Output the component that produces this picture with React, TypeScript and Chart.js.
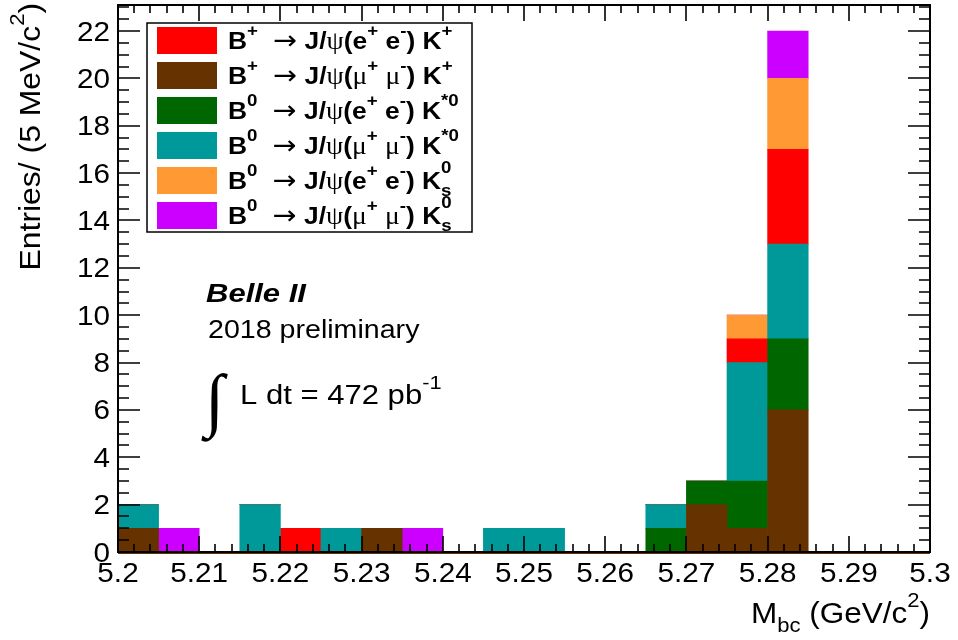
import React, { useEffect, useRef } from 'react';
import { Chart, registerables } from 'chart.js';

Chart.register(...registerables);

// ---------- data ----------
const binCenters = [
  5.2025, 5.2075, 5.2125, 5.2175, 5.2225, 5.2275, 5.2325, 5.2375, 5.2425, 5.2475,
  5.2525, 5.2575, 5.2625, 5.2675, 5.2725, 5.2775, 5.2825, 5.2875, 5.2925, 5.2975,
];
// stacked from bottom to top
const bpMuMuKp = [1, 0, 0, 0, 0, 0, 1, 0, 0, 0, 0, 0, 0, 0, 2, 1, 6, 0, 0, 0];
const b0EeKst = [0, 0, 0, 0, 0, 0, 0, 0, 0, 0, 0, 0, 0, 1, 1, 2, 3, 0, 0, 0];
const b0MuMuKst = [1, 0, 0, 2, 0, 1, 0, 0, 0, 1, 1, 0, 0, 1, 0, 5, 4, 0, 0, 0];
const bpEeKp = [0, 0, 0, 0, 1, 0, 0, 0, 0, 0, 0, 0, 0, 0, 0, 1, 4, 0, 0, 0];
const b0EeKs = [0, 0, 0, 0, 0, 0, 0, 0, 0, 0, 0, 0, 0, 0, 0, 1, 3, 0, 0, 0];
const b0MuMuKs = [0, 1, 0, 0, 0, 0, 0, 1, 0, 0, 0, 0, 0, 0, 0, 0, 2, 0, 0, 0];

const xTicks = [5.2, 5.21, 5.22, 5.23, 5.24, 5.25, 5.26, 5.27, 5.28, 5.29, 5.3];
const xTickLabels = ['5.2', '5.21', '5.22', '5.23', '5.24', '5.25', '5.26', '5.27', '5.28', '5.29', '5.3'];
const yTicks = [0, 2, 4, 6, 8, 10, 12, 14, 16, 18, 20, 22];
const yTickLabels = ['0', '2', '4', '6', '8', '10', '12', '14', '16', '18', '20', '22'];

const legendLabels = [
  'B^{+} #rightarrow J/#psi(e^{+} e^{-}) K^{+}',
  'B^{+} #rightarrow J/#psi(#mu^{+} #mu^{-}) K^{+}',
  'B^{0} #rightarrow J/#psi(e^{+} e^{-}) K^{*0}',
  'B^{0} #rightarrow J/#psi(#mu^{+} #mu^{-}) K^{*0}',
  'B^{0} #rightarrow J/#psi(e^{+} e^{-}) K^{0}_{s}',
  'B^{0} #rightarrow J/#psi(#mu^{+} #mu^{-}) K^{0}_{s}',
];
const legendColors = ['#ff0000', '#663300', '#006600', '#009999', '#ff9933', '#cc00ff'];

const xTitle = 'M_{bc} (GeV/c^{2})';
const yTitle = 'Entries/ (5 MeV/c^{2})';
const expLabel = 'Belle II';
const prelimLabel = '2018 preliminary';
const lumiLabel = 'L dt = 472 pb^{-1}';

// ---------- text helpers ----------
const SANS = '"Liberation Sans", Arial, Helvetica, sans-serif';
const SERIF = '"Liberation Serif", "Times New Roman", serif';
const ARROWFONT = '"DejaVu Sans", sans-serif';

type Seg = { t: string; font: string; dy: number; advance: boolean; padL: number; padR: number };

function parseLatex(src: string, base: number, weight: string): Seg[] {
  const main = `${weight} ${base}px ${SANS}`;
  const small = `${weight} ${Math.round(base * 0.7)}px ${SANS}`;
  const greek = `normal ${Math.round(base * 1.05)}px ${SERIF}`;
  const segs: Seg[] = [];
  let buf = '';
  const flush = () => {
    if (buf) segs.push({ t: buf, font: main, dy: 0, advance: true, padL: 0, padR: 0 });
    buf = '';
  };
  let i = 0;
  while (i < src.length) {
    const c = src[i];
    if ((c === '^' || c === '_') && src[i + 1] === '{') {
      flush();
      const end = src.indexOf('}', i);
      const content = src.slice(i + 2, end);
      i = end + 1;
      const isSup = c === '^';
      const prev = segs[segs.length - 1];
      const nextIsSub = isSup && src[i] === '_' && src[i + 1] === '{';
      if (isSup) {
        segs.push({ t: content, font: small, dy: nextIsSub ? -0.68 * base : -0.55 * base, advance: !nextIsSub, padL: 0, padR: 0 });
      } else {
        const paired = prev && !prev.advance;
        segs.push({ t: content, font: small, dy: paired ? 0.3 * base : 0.3 * base, advance: true, padL: 0, padR: 0 });
      }
      continue;
    }
    if (c === '#') {
      const m = /^#([a-zA-Z]+)/.exec(src.slice(i));
      if (m) {
        flush();
        i += m[0].length;
        if (m[1] === 'rightarrow') {
          segs.push({ t: '\u2192', font: `normal ${Math.round(base * 1.1)}px ${ARROWFONT}`, dy: -0.02 * base, advance: true, padL: 0.3 * base, padR: 0 });
        } else if (m[1] === 'psi') {
          segs.push({ t: '\u03c8', font: greek, dy: 0, advance: true, padL: 0, padR: 0 });
        } else if (m[1] === 'mu') {
          segs.push({ t: '\u03bc', font: greek, dy: 0, advance: true, padL: 0, padR: 0 });
        }
        continue;
      }
    }
    buf += c;
    i++;
  }
  flush();
  return segs;
}

function segsWidth(ctx: CanvasRenderingContext2D, segs: Seg[]): number {
  let w = 0;
  let pending = 0;
  for (const s of segs) {
    ctx.font = s.font;
    const mw = ctx.measureText(s.t).width;
    if (!s.advance) {
      pending = mw;
      continue;
    }
    w += s.padL + Math.max(mw, pending) + s.padR;
    pending = 0;
  }
  return w + pending;
}

function drawSegs(
  ctx: CanvasRenderingContext2D,
  segs: Seg[],
  x: number,
  y: number,
  sx: number,
  align: 'left' | 'right' | 'center',
  rotate = false,
) {
  ctx.save();
  ctx.translate(x, y);
  if (rotate) ctx.rotate(-Math.PI / 2);
  ctx.scale(sx, 1);
  ctx.textAlign = 'left';
  ctx.textBaseline = 'alphabetic';
  const total = segsWidth(ctx, segs);
  let cx = align === 'left' ? 0 : align === 'right' ? -total : -total / 2;
  let pending = 0;
  for (const s of segs) {
    ctx.font = s.font;
    const mw = ctx.measureText(s.t).width;
    ctx.fillText(s.t, cx + s.padL, s.dy);
    if (!s.advance) {
      pending = mw;
      continue;
    }
    cx += s.padL + Math.max(mw, pending) + s.padR;
    pending = 0;
  }
  ctx.restore();
}

// ---------- ROOT-like decorations ----------
const rootStyle = {
  id: 'rootStyle',
  afterDatasetsDraw(chart: any) {
    const ctx: CanvasRenderingContext2D = chart.ctx;
    const { left, right, top, bottom } = chart.chartArea;
    const xs = chart.scales.x;
    const ys = chart.scales.y;
    ctx.save();

    // empty-bin outline at zero
    const y0 = ys.getPixelForValue(0);
    ctx.strokeStyle = '#663300';
    ctx.lineWidth = 2;
    ctx.beginPath();
    ctx.moveTo(left, y0 + 1);
    ctx.lineTo(right, y0 + 1);
    ctx.stroke();

    // frame
    ctx.strokeStyle = '#000';
    ctx.lineWidth = 2;
    ctx.strokeRect(left, top, right - left, bottom - top);

    ctx.lineWidth = 1.6;
    ctx.beginPath();
    // x ticks: major + minor (5 subdivisions)
    for (let k = 0; k < xTicks.length; k++) {
      const px = Math.round(xs.getPixelForValue(xTicks[k]));
      ctx.moveTo(px, bottom);
      ctx.lineTo(px, bottom - 16);
      ctx.moveTo(px, top);
      ctx.lineTo(px, top + 16);
      if (k < xTicks.length - 1) {
        const step = (xTicks[k + 1] - xTicks[k]) / 5;
        for (let m = 1; m < 5; m++) {
          const pm = Math.round(xs.getPixelForValue(xTicks[k] + m * step));
          ctx.moveTo(pm, bottom);
          ctx.lineTo(pm, bottom - 8);
          ctx.moveTo(pm, top);
          ctx.lineTo(pm, top + 8);
        }
      }
    }
    // y ticks: major + minor (4 subdivisions)
    const yStep = (yTicks[1] - yTicks[0]) / 4;
    for (let k = 0; k < yTicks.length; k++) {
      const py = Math.round(ys.getPixelForValue(yTicks[k]));
      ctx.moveTo(left, py);
      ctx.lineTo(left + 22, py);
      ctx.moveTo(right, py);
      ctx.lineTo(right - 22, py);
      for (let m = 1; m < 4; m++) {
        const v = yTicks[k] + m * yStep;
        if (v > ys.max) break;
        const pm = Math.round(ys.getPixelForValue(v));
        ctx.moveTo(left, pm);
        ctx.lineTo(left + 11, pm);
        ctx.moveTo(right, pm);
        ctx.lineTo(right - 11, pm);
      }
    }
    ctx.stroke();

    ctx.fillStyle = '#000';
    // tick labels
    for (let k = 0; k < xTicks.length; k++) {
      const px = xs.getPixelForValue(xTicks[k]);
      drawSegs(ctx, parseLatex(xTickLabels[k], 27, 'normal'), px, bottom + 30, 1.1, 'center');
    }
    for (let k = 0; k < yTicks.length; k++) {
      const py = ys.getPixelForValue(yTicks[k]);
      drawSegs(ctx, parseLatex(yTickLabels[k], 27, 'normal'), left - 8, py + 9.5, 1.1, 'right');
    }

    // axis titles
    drawSegs(ctx, parseLatex(xTitle, 30, 'normal'), right, bottom + 71, 1.05, 'right');
    drawSegs(ctx, parseLatex(yTitle, 29, 'normal'), 40, 3, 1.1, 'right', true);

    // legend
    const lx0 = left + 29;
    const ly0 = top + 18;
    const lw = 325;
    const lh = 209;
    ctx.fillStyle = '#fff';
    ctx.fillRect(lx0, ly0, lw, lh);
    ctx.strokeStyle = '#000';
    ctx.lineWidth = 1.5;
    ctx.strokeRect(lx0, ly0, lw, lh);
    for (let r = 0; r < legendLabels.length; r++) {
      const cy = ly0 + 17.5 + r * 35;
      ctx.fillStyle = legendColors[r];
      ctx.fillRect(lx0 + 10, cy - 13.5, 60, 27);
      ctx.fillStyle = '#000';
      drawSegs(ctx, parseLatex(legendLabels[r], 24, 'bold'), lx0 + 81, cy + 8.5, 1.1, 'left');
    }

    // experiment labels
    drawSegs(ctx, parseLatex(expLabel, 25, 'italic bold'), left + 88, top + 297, 1.24, 'left');
    drawSegs(ctx, parseLatex(prelimLabel, 26, 'normal'), left + 90, top + 333, 1.1, 'left');
    ctx.save();
    ctx.font = `normal 70px ${SERIF}`;
    ctx.textAlign = 'left';
    ctx.fillText('\u222b', left + 87, top + 418);
    ctx.restore();
    drawSegs(ctx, parseLatex(lumiLabel, 27, 'normal'), left + 122, top + 399, 1.15, 'left');

    ctx.restore();
  },
};

export default function App() {
  const canvasRef = useRef<HTMLCanvasElement | null>(null);

  useEffect(() => {
    document.body.style.margin = '0';
    const canvas = canvasRef.current;
    if (!canvas) return;
    const mk = (label: string, values: number[], color: string) => ({
      label,
      data: values.map((v, i) => ({ x: binCenters[i], y: v })),
      backgroundColor: color,
      borderWidth: 0,
      barPercentage: 1,
      categoryPercentage: 1,
    });
    const chart = new Chart(canvas, {
      type: 'bar',
      data: {
        datasets: [
          mk('B+ -> J/psi(mu+ mu-) K+', bpMuMuKp, legendColors[1]),
          mk('B0 -> J/psi(e+ e-) K*0', b0EeKst, legendColors[2]),
          mk('B0 -> J/psi(mu+ mu-) K*0', b0MuMuKst, legendColors[3]),
          mk('B+ -> J/psi(e+ e-) K+', bpEeKp, legendColors[0]),
          mk('B0 -> J/psi(e+ e-) Ks0', b0EeKs, legendColors[4]),
          mk('B0 -> J/psi(mu+ mu-) Ks0', b0MuMuKs, legendColors[5]),
        ],
      },
      options: {
        responsive: false,
        animation: false,
        devicePixelRatio: 1,
        layout: { padding: { left: 118, right: 28, top: 5, bottom: 88 } },
        plugins: { legend: { display: false }, tooltip: { enabled: false }, title: { display: false } },
        scales: {
          x: {
            type: 'linear',
            min: 5.2,
            max: 5.3,
            offset: false,
            stacked: true,
            display: false,
            ticks: { stepSize: 0.01 },
          },
          y: {
            type: 'linear',
            min: 0,
            max: 23.1,
            stacked: true,
            display: false,
          },
        },
      },
      plugins: [rootStyle],
    });
    return () => chart.destroy();
  }, []);

  return <canvas ref={canvasRef} width={958} height={640} style={{ display: 'block' }} />;
}
